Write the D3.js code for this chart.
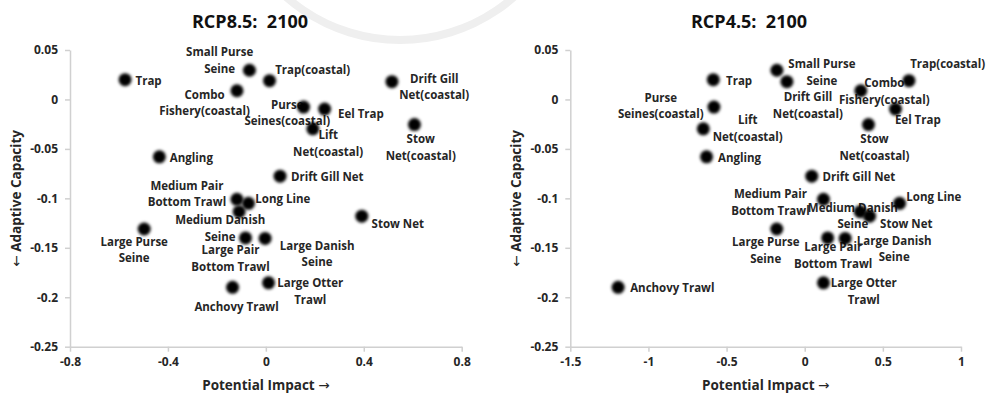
<!DOCTYPE html>
<html>
<head>
<meta charset="utf-8">
<script src="https://cdn.jsdelivr.net/npm/d3@7"></script>
<style>
  body { margin: 0; background: #fff; }
  svg { display: block; }
  text { font-family: "Open Sans", "Liberation Sans", sans-serif; }
</style>
</head>
<body>
<svg id="chart" width="986" height="394"></svg>
<script>
// Fishery types (line breaks mark how each data label wraps)
const fisheries = [
  "Trap", "Small Purse\nSeine", "Trap(coastal)", "Combo\nFishery(coastal)",
  "Purse\nSeines(coastal)", "Eel Trap", "Drift Gill\nNet(coastal)", "Stow\nNet(coastal)",
  "Lift\nNet(coastal)", "Angling", "Drift Gill Net", "Medium Pair\nBottom Trawl",
  "Long Line", "Medium Danish\nSeine", "Stow Net", "Large Purse\nSeine",
  "Large Pair\nBottom Trawl", "Large Danish\nSeine", "Anchovy Trawl", "Large Otter\nTrawl"
];

// Adaptive capacity (same for both scenarios)
const adaptiveCapacity = [
  0.020, 0.0295, 0.019, 0.0088, -0.0077, -0.0097, 0.018, -0.0254, -0.0297, -0.058,
  -0.0776, -0.101, -0.105, -0.1135, -0.118, -0.131, -0.140, -0.1405, -0.190, -0.1854
];

// Potential impact by scenario
const impactRCP85 = [
  -0.575, -0.067, 0.015, -0.118, 0.154, 0.240, 0.515, 0.607, 0.192, -0.435,
  0.058, -0.118, -0.071, -0.109, 0.392, -0.497, -0.083, -0.003, -0.136, 0.011
];
const impactRCP45 = [
  -0.585, -0.178, 0.667, 0.359, -0.581, 0.581, -0.114, 0.408, -0.649, -0.628,
  0.045, 0.120, 0.607, 0.355, 0.415, -0.179, 0.147, 0.259, -1.194, 0.120
];

const panelTitles = ["RCP8.5:  2100", "RCP4.5:  2100"];
const yTickValues = [0.05, 0, -0.05, -0.1, -0.15, -0.2, -0.25];
const yTickLabels = ["0.05", "0", "-0.05", "-0.1", "-0.15", "-0.2", "-0.25"];
const xTickValuesRCP85 = [-0.8, -0.4, 0, 0.4, 0.8];
const xTickLabelsRCP85 = ["-0.8", "-0.4", "0", "0.4", "0.8"];
const xTickValuesRCP45 = [-1.5, -1, -0.5, 0, 0.5, 1];
const xTickLabelsRCP45 = ["-1.5", "-1", "-0.5", "0", "0.5", "1"];

// Data label placement: [dx, dy] of the first line's centre from its marker
const labelPlacementRCP85 = [
  [23.5, 0.7], [-29.8, -18.3], [43.2, -10.7], [-32.4, 3.3], [-16.3, -2.7],
  [36.3, 4.4], [42.3, -3.4], [6.3, 14], [15.3, 5.7], [32, 0.6],
  [47.2, 0.7], [-50, -14], [34.4, -4.7], [-19, 7.7], [36, 7.3],
  [-10, 12], [-15, 12], [52, 6.7], [4, 19.3], [41.7, 0]
];
const labelPlacementRCP45 = [
  [25.8, 0.7], [45, -6.7], [38.7, -16.7], [23.5, -8], [-53.2, -10],
  [22.3, 10.8], [21, 15], [6, 14.3], [44.4, -9.3], [33, 0.6],
  [47.2, 0.7], [-53, -5.7], [34.3, -7], [-7.3, -4.4], [36.7, 7.3],
  [-11, 12.4], [5.5, 9], [49, 1.7], [54.2, 0.6], [40.3, 0]
];

const svg = d3.select("#chart");
const textColor = "#262626";
const axisColor = "#d0d0d0";
const lineGap = 16.6;

// soft edge on the markers
svg.append("defs").append("filter")
  .attr("id", "soft").attr("x", "-50%").attr("y", "-50%").attr("width", "200%").attr("height", "200%")
  .append("feGaussianBlur").attr("stdDeviation", 1.8);

// faint emblem ring in the page background
const ring = svg.append("g").attr("fill", "none").attr("stroke", "#ececec");
ring.append("path")
  .attr("d", d3.arc()({ innerRadius: 168, outerRadius: 176, startAngle: Math.PI * 0.62, endAngle: Math.PI * 1.38 }))
  .attr("transform", "translate(400,-132)").attr("fill", "#efefef").attr("stroke", "none");

const plotTop = 50, plotBottom = 346.7;

const panels = [
  { title: panelTitles[0], impact: impactRCP85, xTicks: xTickValuesRCP85, xLabels: xTickLabelsRCP85,
    xDomain: [-0.8, 0.8], left: 70, right: 461.7, titleX: 250, yTitleX: 16, place: labelPlacementRCP85 },
  { title: panelTitles[1], impact: impactRCP45, xTicks: xTickValuesRCP45, xLabels: xTickLabelsRCP45,
    xDomain: [-1.5, 1], left: 570.3, right: 961, titleX: 749, yTitleX: 516, place: labelPlacementRCP45 }
];

panels.forEach(p => {
  const x = d3.scaleLinear().domain(p.xDomain).range([p.left, p.right]);
  const y = d3.scaleLinear().domain([-0.25, 0.05]).range([plotBottom, plotTop]);
  const g = svg.append("g");

  // title
  g.append("text")
    .attr("x", p.titleX).attr("y", 21)
    .attr("text-anchor", "middle").attr("dominant-baseline", "central")
    .style("white-space", "pre")
    .attr("font-size", 18).attr("font-weight", 700).attr("fill", "#111")
    .text(p.title);

  // axes
  const yAxis = g.append("g").attr("transform", `translate(${p.left},0)`)
    .call(d3.axisLeft(y).tickValues(yTickValues)
      .tickFormat((d, i) => yTickLabels[i]).tickSize(5).tickSizeOuter(0).tickPadding(7));
  const xAxis = g.append("g").attr("transform", `translate(0,${plotBottom})`)
    .call(d3.axisBottom(x).tickValues(p.xTicks)
      .tickFormat((d, i) => p.xLabels[i]).tickSize(5).tickSizeOuter(0).tickPadding(6));
  [yAxis, xAxis].forEach(a => {
    a.select(".domain").attr("stroke", axisColor).attr("stroke-width", 1.5);
    a.selectAll(".tick line").attr("stroke", axisColor).attr("stroke-width", 1.5);
    a.selectAll(".tick text").attr("fill", textColor)
      .attr("font-size", 12).attr("font-weight", 700)
      .attr("font-family", "'Open Sans', sans-serif");
  });

  // axis titles (arrows set in DejaVu Sans, which carries the glyph)
  const xTitle = g.append("text")
    .attr("x", (p.left + p.right) / 2).attr("y", 385)
    .attr("text-anchor", "middle").attr("dominant-baseline", "central")
    .attr("font-size", 13.5).attr("font-weight", 700).attr("fill", textColor);
  xTitle.append("tspan").text("Potential Impact ");
  xTitle.append("tspan").attr("font-family", "'DejaVu Sans', sans-serif")
    .attr("font-weight", 400).text("\u2192");

  const yTitle = g.append("text")
    .attr("transform", `translate(${p.yTitleX},${(plotTop + plotBottom) / 2}) rotate(-90)`)
    .attr("text-anchor", "middle").attr("dominant-baseline", "central")
    .attr("font-size", 13.5).attr("font-weight", 700).attr("fill", textColor);
  yTitle.append("tspan").attr("font-family", "'DejaVu Sans', sans-serif")
    .attr("font-weight", 400).text("\u2190");
  yTitle.append("tspan").text(" Adaptive Capacity");

  const pts = fisheries.map((name, i) => ({
    name, cx: x(p.impact[i]), cy: y(adaptiveCapacity[i]), off: p.place[i]
  }));

  // data labels (markers are drawn over them)
  const labels = g.append("g").selectAll("text").data(pts).join("text")
    .attr("text-anchor", "middle")
    .attr("font-size", 11.5).attr("font-weight", 700).attr("fill", textColor);
  labels.each(function (d) {
    const t = d3.select(this);
    d.name.split("\n").forEach((line, k) => {
      t.append("tspan")
        .attr("x", d.cx + d.off[0])
        .attr("y", d.cy + d.off[1] + k * lineGap)
        .attr("dominant-baseline", "central")
        .text(line);
    });
  });

  // markers
  g.append("g").selectAll("circle").data(pts).join("circle")
    .attr("cx", d => d.cx).attr("cy", d => d.cy)
    .attr("r", 6.5).attr("fill", "#000").attr("filter", "url(#soft)");
});
</script>
</body>
</html>
